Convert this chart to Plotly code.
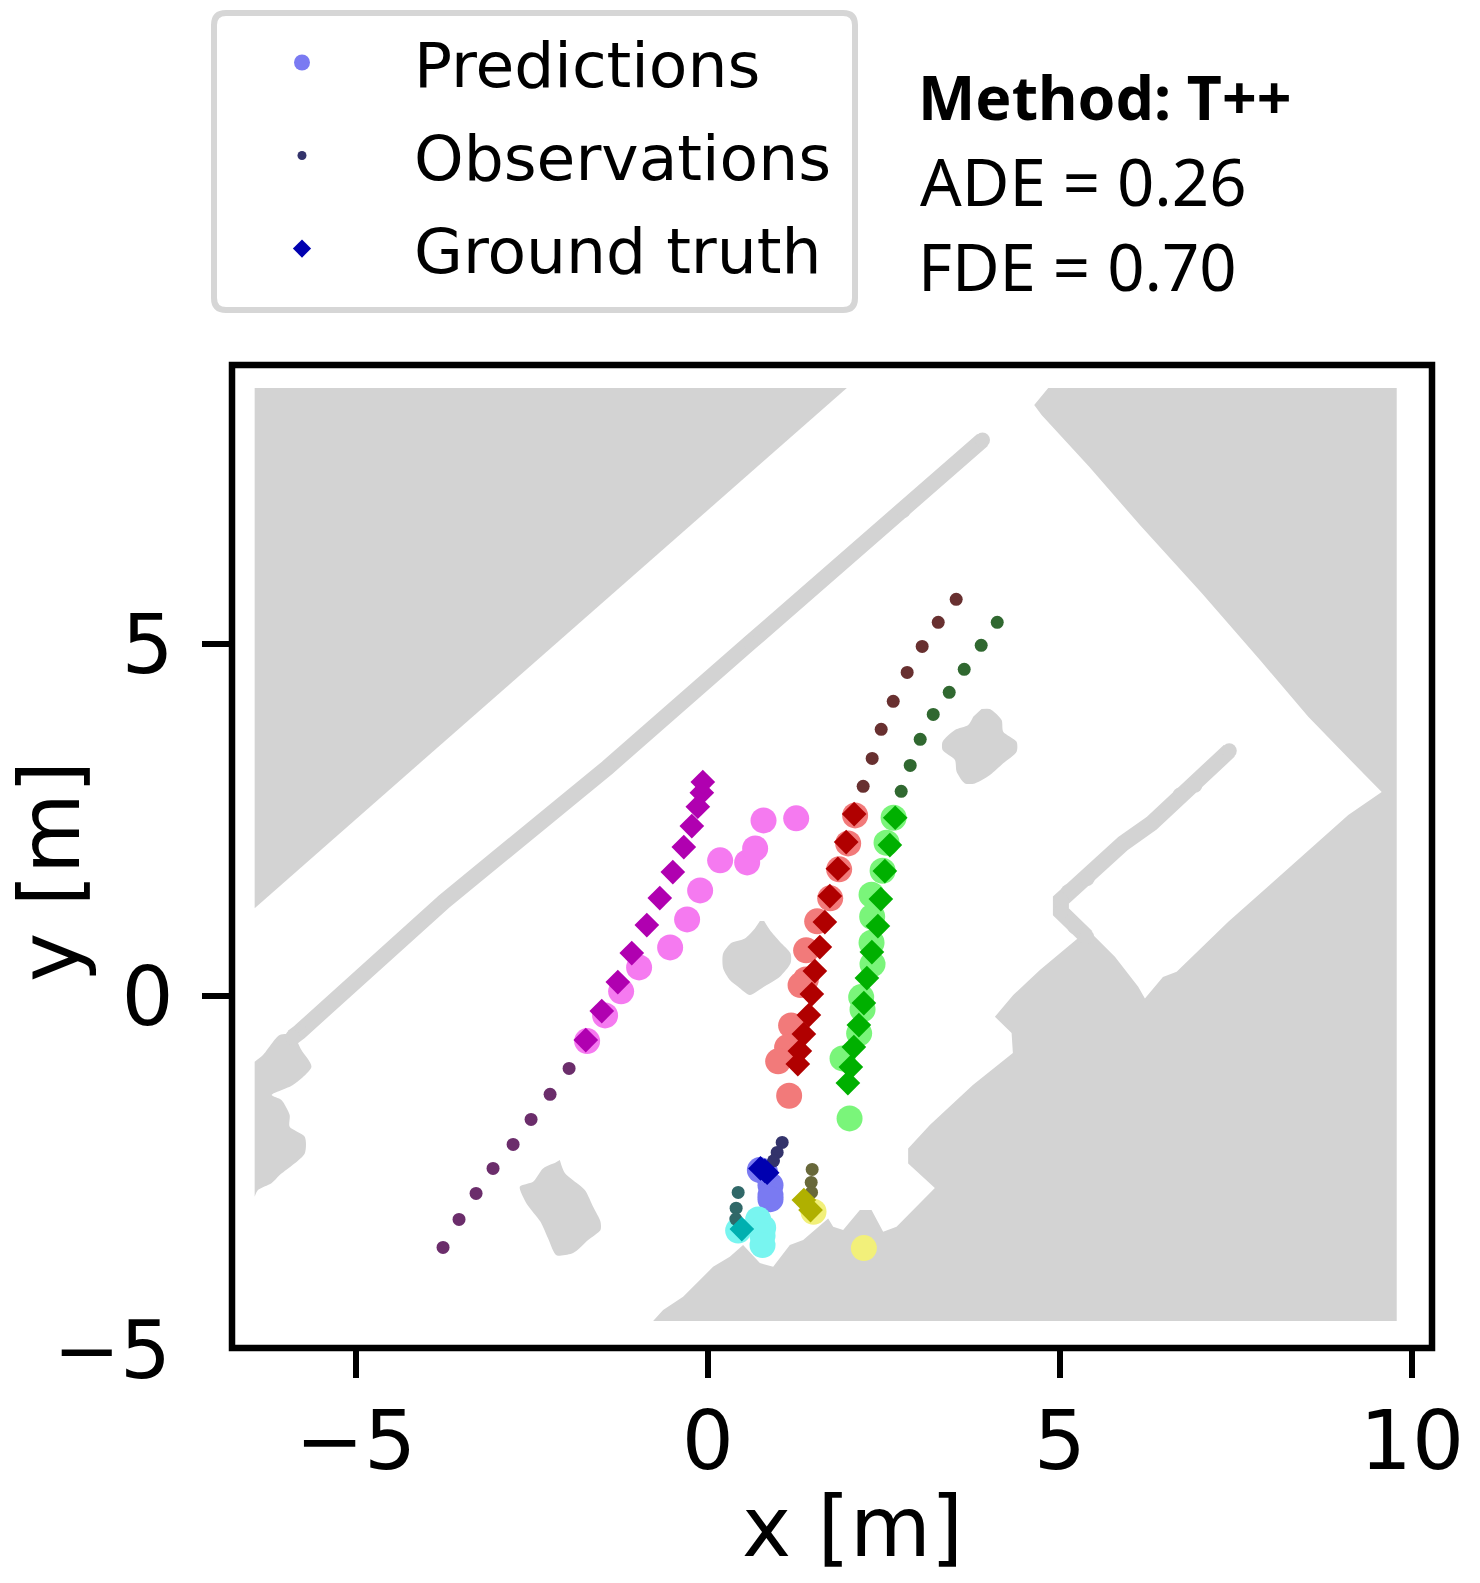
import plotly.graph_objects as go

# ==========================================================
# DATA (metres)
# ==========================================================

obstacle_top_left_x = [-6.435, 1.974, -6.435]
obstacle_top_left_y = [8.642, 8.642, 1.250]

obstacle_right_x = [
    4.834, 4.635, 4.740, 5.416, 6.136, 7.013, 7.841, 8.527, 9.332, 9.570,
    9.095, 8.196, 7.391, 6.658, 6.463, 6.207, 6.112, 5.781, 5.426, 5.260,
    4.716, 4.337, 4.077, 4.314, 4.332, 3.764, 3.153, 2.845, 2.845, 3.224,
    2.680, 2.490, 2.325, 2.159, 1.922, 1.780, 1.709, 1.354, 1.165, 0.928,
    0.739, 0.501, 0.312, 0.075, -0.351, -0.635, -0.777, 9.783, 9.783,
]
obstacle_right_y = [
    8.642, 8.401, 8.259, 7.524, 6.695, 5.729, 4.776, 3.970, 3.141, 2.900,
    2.573, 1.767, 1.056, 0.345, 0.270, -0.033, 0.132, 0.559, 0.914, 0.824,
    0.370, 0.014, -0.294, -0.526, -0.810, -1.265, -1.834, -2.165, -2.378, -2.729,
    -3.279, -3.350, -3.042, -3.042, -3.326, -3.279, -3.160, -3.468, -3.539, -3.848,
    -3.795, -3.539, -3.706, -3.848, -4.274, -4.463, -4.620, -4.620, 8.642,
]

obstacle_left_x = [
    -6.435, -6.317, -6.080, -5.891, -5.771, -5.629, -5.891, -6.193, -6.055,
    -5.938, -5.938, -5.724, -5.724, -6.080, -6.197, -6.388, -6.435,
]
obstacle_left_y = [
    -0.934, -0.839, -0.554, -0.554, -0.768, -1.005, -1.265, -1.407, -1.478,
    -1.692, -1.858, -2.000, -2.236, -2.544, -2.662, -2.758, -2.853,
]

obstacle_a_x = [
    -2.102, -2.031, -1.747, -1.629, -1.524, -1.524, -1.700, -1.913,
    -2.149, -2.268, -2.376, -2.575, -2.670, -2.482, -2.340, -2.173,
]
obstacle_a_y = [
    -2.331, -2.516, -2.758, -2.995, -3.208, -3.326, -3.468, -3.653,
    -3.682, -3.444, -3.208, -2.947, -2.711, -2.640, -2.449, -2.374,
]

obstacle_b_x = [
    0.800, 0.881, 1.023, 1.175, 1.175, 1.023, 0.786, 0.597,
    0.430, 0.313, 0.217, 0.217, 0.337, 0.526, 0.668, 0.739,
]
obstacle_b_y = [
    1.066, 0.938, 0.772, 0.607, 0.465, 0.274, 0.124, 0.014,
    0.132, 0.227, 0.394, 0.607, 0.758, 0.820, 0.962, 1.066,
]

obstacle_c_x = [
    3.887, 4.006, 4.172, 4.195, 4.385, 4.385, 4.195, 4.006, 3.793,
    3.651, 3.533, 3.509, 3.334, 3.334, 3.509, 3.697, 3.769,
]
obstacle_c_y = [
    4.080, 4.080, 3.923, 3.757, 3.615, 3.473, 3.308, 3.141, 3.023,
    3.023, 3.188, 3.355, 3.497, 3.615, 3.781, 3.852, 3.970,
]

wall_long_x = [3.901, 2.777, 0.602, -1.426, -3.746, -5.795, -5.895]
wall_long_y = [7.903, 6.902, 5.025, 3.248, 1.345, -0.507, -0.583]

wall_stub_x = [7.405, 6.918, 6.705, 6.302, 5.899, 5.388, 5.118, 5.014, 5.014, 5.213, 5.379]
wall_stub_y = [3.487, 2.999, 2.857, 2.455, 2.171, 1.673, 1.483, 1.365, 1.198, 0.985, 0.843]

# magenta pedestrian
magenta_obs_x = [-3.760, -3.533, -3.291, -3.050, -2.765, -2.510, -2.240, -1.970]
magenta_obs_y = [-3.572, -3.174, -2.805, -2.449, -2.108, -1.753, -1.397, -1.028]
magenta_pred_x = [-1.714, -1.459, -1.231, -0.976, -0.535, -0.294, -0.109, 0.175, 0.559, 0.672, 0.791, 1.255]
magenta_pred_y = [-0.640, -0.275, 0.067, 0.408, 0.692, 1.090, 1.502, 1.929, 1.900, 2.099, 2.497, 2.526]
magenta_gt_x = [-1.733, -1.506, -1.278, -1.080, -0.866, -0.682, -0.497, -0.341, -0.227, -0.142, -0.085, -0.071]
magenta_gt_y = [-0.625, -0.213, 0.199, 0.611, 1.009, 1.393, 1.763, 2.118, 2.416, 2.691, 2.890, 3.042]

# red pedestrian
red_obs_x = [3.527, 3.272, 3.044, 2.831, 2.633, 2.462, 2.334, 2.206]
red_obs_y = [5.639, 5.312, 4.970, 4.601, 4.189, 3.791, 3.378, 2.981]
red_pred_x = [2.092, 1.993, 1.865, 1.738, 1.553, 1.396, 1.392, 1.317, 1.183, 1.126, 0.999, 1.155]
red_pred_y = [2.568, 2.170, 1.801, 1.389, 1.062, 0.650, 0.237, 0.156, -0.417, -0.729, -0.928, -1.417]
red_gt_x = [2.078, 1.965, 1.847, 1.733, 1.662, 1.591, 1.520, 1.477, 1.435, 1.364, 1.307, 1.278]
red_gt_y = [2.587, 2.189, 1.810, 1.421, 1.052, 0.697, 0.355, 0.028, -0.270, -0.540, -0.782, -0.967]

# green pedestrian
green_obs_x = [4.110, 3.882, 3.641, 3.428, 3.201, 3.016, 2.874, 2.746]
green_obs_y = [5.312, 4.985, 4.644, 4.317, 4.004, 3.649, 3.279, 2.910]
green_pred_x = [2.638, 2.538, 2.482, 2.325, 2.334, 2.325, 2.339, 2.178, 2.197, 2.149, 1.913, 2.013]
green_pred_y = [2.535, 2.179, 1.781, 1.440, 1.127, 0.758, 0.455, -0.014, -0.189, -0.530, -0.886, -1.739]
green_gt_x = [2.661, 2.585, 2.514, 2.457, 2.415, 2.330, 2.259, 2.216, 2.145, 2.074, 2.031, 1.989]
green_gt_y = [2.535, 2.146, 1.777, 1.379, 0.995, 0.625, 0.256, -0.100, -0.412, -0.725, -1.009, -1.237]

# blue pedestrian
blue_obs_x = [1.056, 0.985, 0.933]
blue_obs_y = [-2.080, -2.222, -2.341]
blue_pred_x = [0.739, 0.810, 0.890, 0.890, 0.890]
blue_pred_y = [-2.473, -2.497, -2.687, -2.829, -2.886]
blue_gt_x = [0.748, 0.810, 0.843]
blue_gt_y = [-2.449, -2.483, -2.511]

# cyan pedestrian
cyan_obs_x = [0.431, 0.402, 0.398]
cyan_obs_y = [-2.791, -3.014, -3.170]
cyan_pred_x = [0.431, 0.715, 0.786, 0.777, 0.777]
cyan_pred_y = [-3.331, -3.174, -3.293, -3.407, -3.539]
cyan_gt_x = [0.483]
cyan_gt_y = [-3.312]

# yellow pedestrian
yellow_obs_x = [1.482, 1.468, 1.473]
yellow_obs_y = [-2.464, -2.649, -2.791]
yellow_pred_x = [1.501, 2.216]
yellow_pred_y = [-3.066, -3.582]
yellow_gt_x = [1.364, 1.459]
yellow_gt_y = [-2.900, -3.042]

tick_x = [-5, 0, 5, 10]
tick_y = [0, 5]
# -5 sits on the bottom spine and has a label but no tick mark
bottom_y_label = "\u22125"

legend_labels = ["Predictions", "Observations", "Ground truth"]
method_lines = ["<b>Method: T++</b>", "ADE = 0.26", "FDE = 0.70"]


# ==========================================================
# STYLE
# ==========================================================

WIDTH = 1480
HEIGHT = 1583
M_L, M_R, M_T, M_B = 232, 48, 365, 235
GREY = "#d3d3d3"
AXIS_FONT = "DejaVu Sans"

agents = [
    (magenta_obs_x, magenta_obs_y, magenta_pred_x, magenta_pred_y, magenta_gt_x, magenta_gt_y,
     "#6b2d6b", "#f57af0", "#b000b0"),
    (red_obs_x, red_obs_y, red_pred_x, red_pred_y, red_gt_x, red_gt_y,
     "#683030", "#f27a7a", "#b00000"),
    (green_obs_x, green_obs_y, green_pred_x, green_pred_y, green_gt_x, green_gt_y,
     "#306830", "#7af57a", "#00b000"),
    (blue_obs_x, blue_obs_y, blue_pred_x, blue_pred_y, blue_gt_x, blue_gt_y,
     "#33336b", "#7a7af2", "#0000b0"),
    (cyan_obs_x, cyan_obs_y, cyan_pred_x, cyan_pred_y, cyan_gt_x, cyan_gt_y,
     "#306868", "#78f5f0", "#00b0b0"),
    (yellow_obs_x, yellow_obs_y, yellow_pred_x, yellow_pred_y, yellow_gt_x, yellow_gt_y,
     "#68683a", "#f2f07a", "#b0b000"),
]


def paper_x(px):
    return (px - M_L) / (WIDTH - M_L - M_R)


def paper_y(py):
    return (HEIGHT - M_B - py) / (HEIGHT - M_T - M_B)


fig = go.Figure()

# ==========================================================
# OBSTACLE MAP
# ==========================================================

for xs, ys, shape in [
    (obstacle_top_left_x, obstacle_top_left_y, "linear"),
    (obstacle_right_x, obstacle_right_y, "linear"),
    (obstacle_left_x, obstacle_left_y, "spline"),
    (obstacle_a_x, obstacle_a_y, "spline"),
    (obstacle_b_x, obstacle_b_y, "spline"),
    (obstacle_c_x, obstacle_c_y, "spline"),
]:
    fig.add_trace(go.Scatter(
        x=xs, y=ys, mode="lines", fill="toself", fillcolor=GREY,
        line=dict(color=GREY, width=0, shape=shape, smoothing=0.7),
        showlegend=False, hoverinfo="skip",
    ))

for xs, ys in [(wall_long_x, wall_long_y), (wall_stub_x, wall_stub_y)]:
    fig.add_trace(go.Scatter(
        x=xs, y=ys, mode="lines+markers",
        line=dict(color=GREY, width=16),
        marker=dict(color=GREY, size=15),
        showlegend=False, hoverinfo="skip",
    ))

# ==========================================================
# TRAJECTORIES
# ==========================================================

for obs_x, obs_y, pred_x, pred_y, gt_x, gt_y, obs_c, pred_c, gt_c in agents:
    fig.add_trace(go.Scatter(
        x=pred_x, y=pred_y, mode="markers",
        marker=dict(color=pred_c, size=26), showlegend=False,
    ))
    fig.add_trace(go.Scatter(
        x=obs_x, y=obs_y, mode="markers",
        marker=dict(color=obs_c, size=13), showlegend=False,
    ))
    fig.add_trace(go.Scatter(
        x=gt_x, y=gt_y, mode="markers",
        marker=dict(color=gt_c, size=19, symbol="diamond"), showlegend=False,
    ))

# legend keys, with the sizes the legend box uses
for label, color, size, symbol in zip(
    legend_labels,
    ["#7a7af2", "#33336b", "#0000b0"],
    [19, 9, 14],
    ["circle", "circle", "diamond"],
):
    fig.add_trace(go.Scatter(
        x=[None], y=[None], mode="markers", name=label, legendgroup=label,
        marker=dict(color=color, size=size, symbol=symbol),
    ))

# ==========================================================
# LAYOUT
# ==========================================================

# rounded legend frame
lx0, lx1, ly0, ly1 = paper_x(214), paper_x(855), paper_y(13), paper_y(310)
rx, ry = 12 / (WIDTH - M_L - M_R), 12 / (HEIGHT - M_T - M_B)
legend_frame = (
    f"M {lx0 + rx} {ly0} L {lx1 - rx} {ly0} Q {lx1} {ly0} {lx1} {ly0 - ry} "
    f"L {lx1} {ly1 + ry} Q {lx1} {ly1} {lx1 - rx} {ly1} "
    f"L {lx0 + rx} {ly1} Q {lx0} {ly1} {lx0} {ly1 + ry} "
    f"L {lx0} {ly0 - ry} Q {lx0} {ly0} {lx0 + rx} {ly0} Z"
)

fig.update_layout(
    width=WIDTH,
    height=HEIGHT,
    autosize=False,
    margin=dict(l=M_L, r=M_R, t=M_T, b=M_B, pad=0, autoexpand=False),
    paper_bgcolor="white",
    plot_bgcolor="white",
    font=dict(family=AXIS_FONT, color="black"),
    legend=dict(
        x=paper_x(190),
        y=paper_y(15),
        xanchor="left",
        yanchor="top",
        bgcolor="rgba(0,0,0,0)",
        borderwidth=0,
        font=dict(family=AXIS_FONT, size=63.1, color="black"),
        itemwidth=214,
        tracegroupgap=8,
    ),
    shapes=[
        dict(type="path", path=legend_frame, xref="paper", yref="paper",
             line=dict(color="#d6d6d6", width=6), fillcolor="white", layer="below"),
        dict(type="rect", xref="paper", yref="paper", x0=0, x1=1, y0=0, y1=1,
             line=dict(color="black", width=6.5), fillcolor="rgba(0,0,0,0)", layer="above"),
    ],
    annotations=[
        dict(text="x [m]", x=paper_x(852), y=paper_y(1527), xref="paper", yref="paper",
             xanchor="center", yanchor="middle", showarrow=False,
             font=dict(family=AXIS_FONT, size=83, color="black")),
        dict(text="y [m]", x=paper_x(50), y=paper_y(872), xref="paper", yref="paper",
             xanchor="center", yanchor="middle", showarrow=False, textangle=-90,
             font=dict(family=AXIS_FONT, size=83, color="black")),
        dict(text=bottom_y_label, x=paper_x(173), y=paper_y(1350), xref="paper", yref="paper",
             xanchor="right", yanchor="middle", showarrow=False,
             font=dict(family=AXIS_FONT, size=80, color="black")),
        dict(text=method_lines[0], x=paper_x(916), y=paper_y(96), xref="paper", yref="paper",
             xanchor="left", yanchor="middle", showarrow=False,
             font=dict(family="Noto Sans", size=60.8, color="black")),
        dict(text=method_lines[1], x=paper_x(918), y=paper_y(180), xref="paper", yref="paper",
             xanchor="left", yanchor="middle", showarrow=False,
             font=dict(family="Noto Sans", size=65.3, color="black")),
        dict(text=method_lines[2], x=paper_x(916), y=paper_y(265), xref="paper", yref="paper",
             xanchor="left", yanchor="middle", showarrow=False,
             font=dict(family="Noto Sans", size=65.3, color="black")),
    ],
)

fig.update_xaxes(
    range=[-6.757, 10.284],
    tickmode="array",
    tickvals=tick_x,
    ticks="outside",
    ticklen=29,
    tickwidth=5.5,
    tickcolor="black",
    tickfont=dict(family=AXIS_FONT, size=82, color="black"),
    ticklabelstandoff=-7,
    showgrid=False,
    zeroline=False,
    showline=False,
)

fig.update_yaxes(
    range=[-5.002, 8.97],
    tickmode="array",
    tickvals=tick_y,
    ticks="outside",
    ticklen=29,
    tickwidth=5.5,
    tickcolor="black",
    tickfont=dict(family=AXIS_FONT, size=82, color="black"),
    ticklabelstandoff=12,
    showgrid=False,
    zeroline=False,
    showline=False,
)

# drop the page body's default 8px margin so the figure starts at the corner
fig.write_html(
    "out.html",
    config={"displayModeBar": False},
    post_script="document.body.style.margin = '0';",
)
